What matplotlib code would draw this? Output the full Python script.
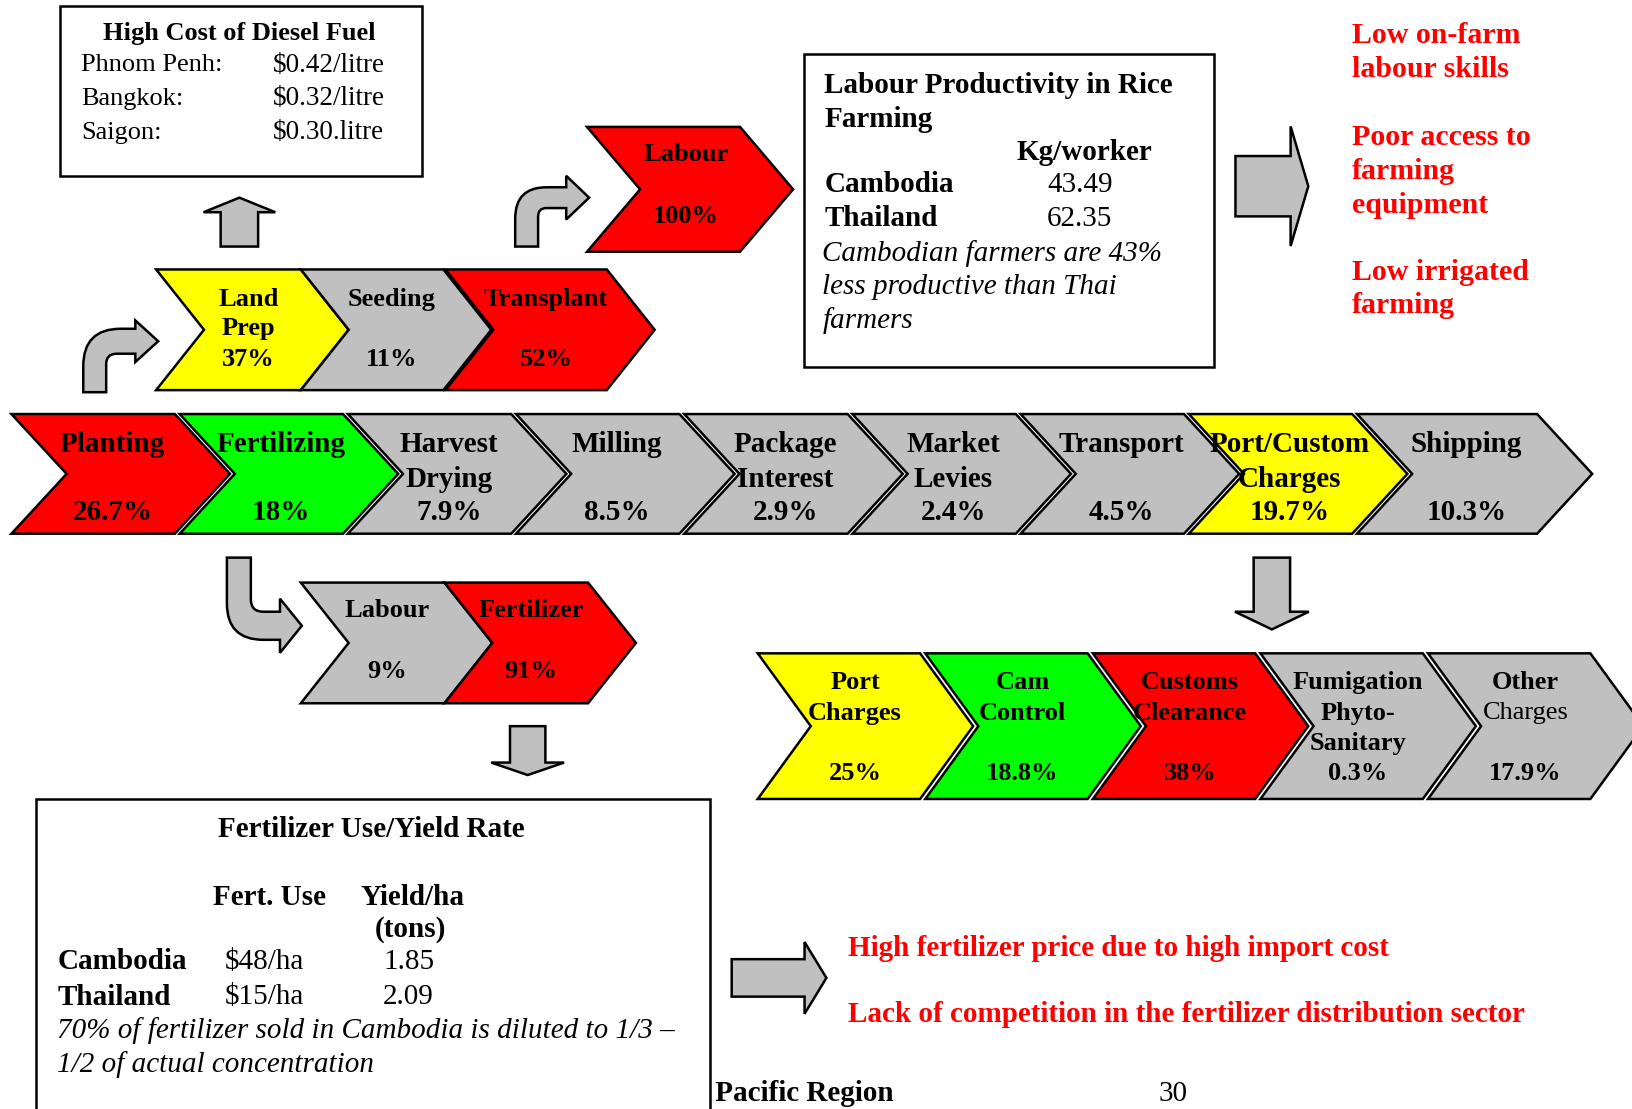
"""Rice value chain cost breakdown diagram (Cambodia), drawn as chevrons and block arrows."""
import numpy as np
import matplotlib
matplotlib.use("Agg")
import matplotlib.pyplot as plt
from matplotlib.patches import Polygon, Rectangle, PathPatch
from matplotlib.path import Path

plt.rcParams["font.family"] = ["Liberation Serif", "DejaVu Serif"]

RED, GREEN, YELLOW, GREY = "#FF0000", "#00FF00", "#FFFF00", "#C0C0C0"

# ---- data -------------------------------------------------------------
main_steps = ["Planting", "Fertilizing", "Harvest\nDrying", "Milling", "Package\nInterest",
              "Market\nLevies", "Transport", "Port/Custom\nCharges", "Shipping"]
main_share = [26.7, 18, 7.9, 8.5, 2.9, 2.4, 4.5, 19.7, 10.3]
main_colors = [RED, GREEN, GREY, GREY, GREY, GREY, GREY, YELLOW, GREY]

farm_steps = ["Land\nPrep", "Seeding", "Transplant"]
farm_share = [37, 11, 52]
farm_colors = [YELLOW, GREY, RED]

transplant_steps = ["Labour"]
transplant_share = [100]

fert_steps = ["Labour", "Fertilizer"]
fert_share = [9, 91]
fert_colors = [GREY, RED]

port_steps = ["Port\nCharges", "Cam\nControl", "Customs\nClearance", "Fumigation\nPhyto-\nSanitary", "Other\nCharges"]
port_share = [25, 18.8, 38, 0.3, 17.9]
port_colors = [YELLOW, GREEN, RED, GREY, GREY]

diesel_cities = ["Phnom Penh:", "Bangkok:", "Saigon:"]
diesel_price = ["$0.42/litre", "$0.32/litre", "$0.30.litre"]

prod_countries = ["Cambodia", "Thailand"]
prod_kg = ["43.49", "62.35"]
prod_note = ["Cambodian farmers are 43%", "less productive than Thai", "farmers"]

fert_countries = ["Cambodia", "Thailand"]
fert_use = ["$48/ha", "$15/ha"]
fert_yield = ["1.85", "2.09"]
fert_note = ["70% of fertilizer sold in Cambodia is diluted to 1/3 \u2013", "1/2 of actual concentration"]

labour_issues = [["Low on-farm", "labour skills"], ["Poor access to", "farming", "equipment"],
                 ["Low irrigated", "farming"]]
fert_issues = ["High fertilizer price due to high import cost",
               "Lack of competition in the fertilizer distribution sector"]

# ---- canvas -----------------------------------------------------------
W, H = 1568, 1066
fig = plt.figure(figsize=(16.32, 11.09), dpi=100)
ax = fig.add_axes([0, 0, 1, 1])
ax.set_xlim(0, W)
ax.set_ylim(H, 0)
ax.axis("off")
LW = 1.8
DY = 2.5  # nudge: matplotlib centres on the full glyph box, Word on the cap line


def txt(x, y, s, size=21, weight="bold", style="normal", color="black", ha="center", z=6, va="center"):
    ax.text(x, y + DY if va == "center" else y, s, fontsize=size, fontweight=weight, fontstyle=style,
            color=color, ha=ha, va=va, zorder=z, parse_math=False)


def chevron(x0, top, bot, w, d, color, z=2):
    mid = (top + bot) / 2
    pts = [(x0, top), (x0 + w, top), (x0 + w + d, mid), (x0 + w, bot), (x0, bot), (x0 + d, mid)]
    ax.add_patch(Polygon(pts, closed=True, fc=color, ec="black", lw=LW, joinstyle="miter", zorder=z))


def chain(x0s, widths, depth, top, bot, steps, shares, colors, line0, dy, pct_y, size, xoff=-8, plain=()):
    for i, (x0, w, s, v, c) in enumerate(zip(x0s, widths, steps, shares, colors)):
        chevron(x0, top, bot, w, depth, c, z=2 + i * 0.01)
        cx = x0 + (w + depth) / 2 + xoff
        for j, line in enumerate(s.split("\n")):
            txt(cx, line0 + j * dy, line, size, weight="normal" if (i, j) in plain else "bold")
        txt(cx, pct_y, f"{v:g}%", size)


def block_arrow(tail, tip, sw, hw, hl):
    t = np.array(tail, float)
    p = np.array(tip, float)
    u = p - t
    L = np.hypot(*u)
    u /= L
    v = np.array([-u[1], u[0]])
    local = [(0, -sw / 2), (L - hl, -sw / 2), (L - hl, -hw / 2), (L, 0),
             (L - hl, hw / 2), (L - hl, sw / 2), (0, sw / 2)]
    pts = [t + a * u + b * v for a, b in local]
    ax.add_patch(Polygon(pts, closed=True, fc=GREY, ec="black", lw=LW, joinstyle="miter", zorder=3))


def bent_arrow(xs, sw, y_e, y_o, aw, R, r, xh, hh, xt, up=True):
    s = -1 if up else 1
    y_i = y_o - s * aw
    yc = y_o - s * aw / 2
    verts = [(xs, y_e), (xs, y_o - s * R), (xs, y_o), (xs + R, y_o), (xh, y_o),
             (xh, yc + s * hh), (xt, yc), (xh, yc - s * hh), (xh, y_i),
             (xs + sw + r, y_i), (xs + sw, y_i), (xs + sw, y_i - s * r), (xs + sw, y_e), (xs, y_e)]
    codes = [Path.MOVETO, Path.LINETO, Path.CURVE3, Path.CURVE3, Path.LINETO,
             Path.LINETO, Path.LINETO, Path.LINETO, Path.LINETO,
             Path.LINETO, Path.CURVE3, Path.CURVE3, Path.LINETO, Path.CLOSEPOLY]
    ax.add_patch(PathPatch(Path(verts, codes), fc=GREY, ec="black", lw=LW, joinstyle="miter", zorder=3))


# ---- main chain -------------------------------------------------------
n = len(main_steps)
chain([11 + i * 161.6 for i in range(n)], [157] * (n - 1) + [173], 53, 398, 513,
      main_steps, main_share, main_colors, 425, 33, 490, 21)

# ---- farm operations (above Planting) ----------------------------------
chain([150, 289, 428], [139, 137, 155], 46, 259, 375,
      farm_steps, farm_share, farm_colors, 285, 28, 343, 19, xoff=-4)
chain([564], [147], 51, 122, 242, transplant_steps, transplant_share, [RED], 146, 28, 206, 19, xoff=-4)

# ---- fertilizing breakdown ------------------------------------------------
chain([289, 427], [138, 138], 46, 560, 676, fert_steps, fert_share, fert_colors, 584, 28, 643, 19, xoff=-9)

# ---- port / customs breakdown ---------------------------------------------
m = len(port_steps)
chain([728 + i * 161 for i in range(m)], [156] * m, 51, 628, 768,
      port_steps, port_share, port_colors, 654, 29, 741, 19, xoff=-10, plain={(4, 1)})

# ---- arrows ---------------------------------------------------------------
block_arrow((230, 237), (230, 190), 36, 69, 14)          # to diesel box
block_arrow((1187, 179), (1257, 179), 58, 115, 17)        # labour box -> issues
block_arrow((507, 698), (507, 745), 34, 70, 12)           # fertilizer -> box
block_arrow((1222, 536), (1222, 605), 35, 71, 17)         # port -> breakdown
block_arrow((703, 940), (794, 940), 36, 69, 21)           # fertilizer box -> issues
bent_arrow(80, 22, 377, 316, 24, 36, 10, 130, 20, 152, up=True)
bent_arrow(495, 22, 237, 180, 20, 30, 8, 544, 21, 566, up=True)
bent_arrow(218, 23, 536, 615, 27, 35, 12, 269, 26, 290, up=False)

# ---- diesel box -------------------------------------------------------------
ax.add_patch(Rectangle((58, 6), 347, 163, fc="white", ec="black", lw=LW, zorder=4))
txt(230, 30, "High Cost of Diesel Fuel", 19)
for k, (c, p) in enumerate(zip(diesel_cities, diesel_price)):
    y = 60 + k * 32.5
    txt(78, y, c, 19, weight="normal", ha="left")
    txt(262, y, p, 19.5, weight="normal", ha="left")

# ---- labour productivity box -------------------------------------------------
ax.add_patch(Rectangle((772, 52), 394, 301, fc="white", ec="black", lw=LW, zorder=4))
txt(792, 80, "Labour Productivity in Rice", ha="left")
txt(792, 112, "Farming", ha="left")
txt(977, 144, "Kg/worker", ha="left")
for k, (c, v) in enumerate(zip(prod_countries, prod_kg)):
    y = 175 + k * 33
    txt(792, y, c, ha="left")
    txt(1006, y, v, weight="normal", ha="left")
for k, line in enumerate(prod_note):
    txt(790, 241 + k * 32.5, line, weight="normal", style="italic", ha="left")

# ---- labour issues (red) ---------------------------------------------------------
for block, y0 in zip(labour_issues, [32, 130, 259]):
    for k, line in enumerate(block):
        txt(1299, y0 + k * 32.5, line, 21.5, color=RED, ha="left")

# ---- footer (partly hidden behind fertilizer box) ---------------------------------
txt(859, 1064, "and Pacific Region", ha="right", z=1, va="bottom")
txt(1127, 1064, "30", weight="normal", z=1, va="bottom")

# ---- fertilizer box ------------------------------------------------------------------
ax.add_patch(Rectangle((35, 768), 647, 400, fc="white", ec="black", lw=LW, zorder=4))
txt(357, 795, "Fertilizer Use/Yield Rate")
txt(205, 860, "Fert. Use", ha="left")
txt(346, 860, "Yield/ha", ha="left")
txt(360, 891, "(tons)", ha="left")
for k, (c, u, yv) in enumerate(zip(fert_countries, fert_use, fert_yield)):
    y = 922 + k * 34
    txt(55, y, c, ha="left")
    txt(216, y, u, weight="normal", ha="left")
    txt(368, y, yv, weight="normal", ha="left")
for k, line in enumerate(fert_note):
    txt(55, 988 + k * 33, line, weight="normal", style="italic", ha="left")

for k, line in enumerate(fert_issues):
    txt(815, 909 + k * 64, line, 21, color=RED, ha="left")

fig.savefig("out.png", dpi=100)
plt.close(fig)
